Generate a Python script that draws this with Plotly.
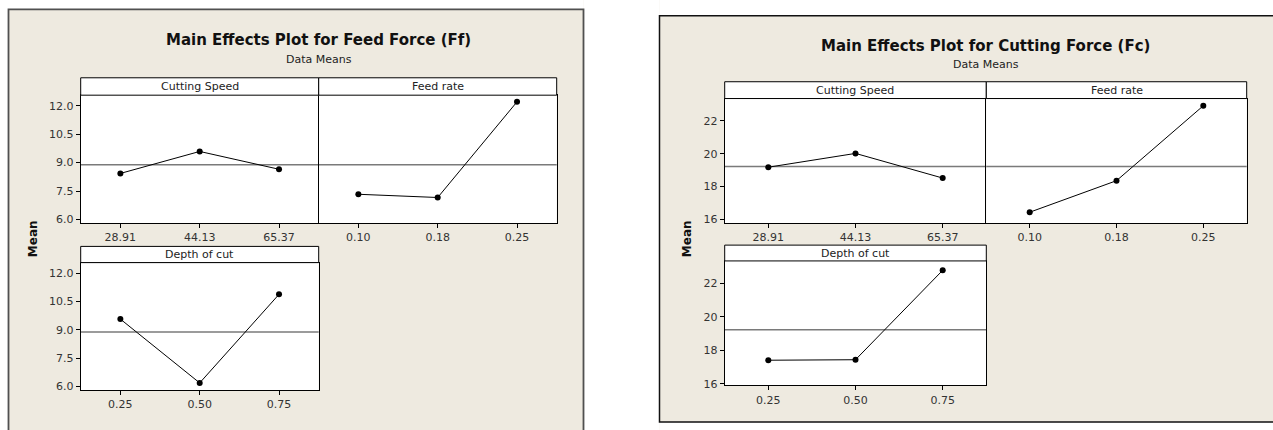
import plotly.graph_objects as go

# ---------------- data ----------------
speed_labels = ["28.91", "44.13", "65.37"]
feed_labels = ["0.10", "0.18", "0.25"]
depth_labels = ["0.25", "0.50", "0.75"]

ff_speed = [8.43, 9.59, 8.65]
ff_feed = [7.33, 7.16, 12.21]
ff_depth = [9.57, 6.19, 10.88]

fc_speed = [19.18, 20.02, 18.52]
fc_feed = [16.44, 18.36, 22.92]
fc_depth = [17.41, 17.44, 22.79]

ff_ticks = [6.0, 7.5, 9.0, 10.5, 12.0]
fc_ticks = [16, 18, 20, 22]

W, H = 1273, 430
BG = "#EEEAE0"
FONT = "DejaVu Sans, Verdana, sans-serif"


def px(x):
    return x / W


def py(y):
    return 1 - y / H


fig = go.Figure()

# (axis idx, x0, x1, ytop, ybottom, labels, values, strip_top, strip_label, yrange, ticks, show yticks, fmt, ymirror)
panels = [
    (1, 80.7, 318.7, 96.3, 225.7, speed_labels, ff_speed, 78.7, "Cutting Speed", [5.81, 12.56], ff_ticks, True, ".1f", False),
    (2, 318.7, 556.7, 96.3, 225.7, feed_labels, ff_feed, 78.7, "Feed rate", [5.81, 12.56], ff_ticks, False, ".1f", True),
    (3, 80.7, 318.7, 265.7, 394.7, depth_labels, ff_depth, 249.3, "Depth of cut", [5.81, 12.56], ff_ticks, True, ".1f", True),
    (4, 724.7, 986.3, 99.7, 225.7, speed_labels, fc_speed, 82.7, "Cutting Speed", [15.78, 23.36], fc_ticks, True, "d", False),
    (5, 986.3, 1246.7, 99.7, 225.7, feed_labels, fc_feed, 82.7, "Feed rate", [15.78, 23.36], fc_ticks, False, "d", True),
    (6, 724.7, 986.3, 264.0, 390.0, depth_labels, fc_depth, 248.0, "Depth of cut", [15.90, 23.35], fc_ticks, True, "d", True),
]

ff_all = ff_speed + ff_feed + ff_depth
fc_all = fc_speed + fc_feed + fc_depth
ff_mean = sum(ff_all) / len(ff_all)
fc_mean = sum(fc_all) / len(fc_all)

shapes = []
annotations = []


def white_rect(x0, x1, y0, y1):
    shapes.append(dict(type="rect", xref="paper", yref="paper", x0=px(x0), x1=px(x1), y0=py(y1), y1=py(y0),
                       fillcolor="white", line=dict(width=0), layer="below"))


# white surroundings (paper is beige)
white_rect(-5, 8.5, -5, 440)
white_rect(-5, 583.5, -5, 9.5)
white_rect(583.5, 659.5, -5, 440)
white_rect(659.5, 1280, -5, 16)
white_rect(659.5, 1280, 427, 440)

# outer frame lines
shapes.append(dict(type="rect", xref="paper", yref="paper", x0=px(8.5), x1=px(583.5), y0=py(436), y1=py(9.5),
                   fillcolor="rgba(0,0,0,0)", line=dict(color="#505050", width=1.8)))
shapes.append(dict(type="rect", xref="paper", yref="paper", x0=px(659.5), x1=px(1285), y0=py(427), y1=py(16),
                   fillcolor="rgba(0,0,0,0)", line=dict(color="#111111", width=1.5)))

for idx, x0, x1, yt, yb, labels, vals, st, slabel, yr, ticks, showy, fmt, ymir in panels:
    sfx = "" if idx == 1 else str(idx)
    xa = "xaxis" + sfx
    ya = "yaxis" + sfx
    xr = "x" + sfx
    yrf = "y" + sfx
    fig.add_trace(go.Scatter(x=labels, y=vals, xaxis=xr, yaxis=yrf, mode="lines+markers",
                             line=dict(color="black", width=1),
                             marker=dict(color="black", size=6), showlegend=False,
                             hoverinfo="x+y"))
    fig.layout[xa] = dict(domain=[px(x0), px(x1)], anchor=yrf, type="category", range=[-0.5, 2.5],
                          showline=True, mirror=True, linecolor="black", linewidth=1,
                          ticks="outside", ticklen=4, tickcolor="black", showgrid=False, zeroline=False,
                          tickfont=dict(family=FONT, size=11, color="#333333"), fixedrange=True)
    fig.layout[ya] = dict(domain=[py(yb), py(yt)], anchor=xr, range=yr, tickvals=ticks,
                          tickformat=fmt, showline=True, mirror=ymir, linecolor="black", linewidth=1,
                          ticks="outside" if showy else "", ticklen=4, tickcolor="black",
                          showticklabels=showy, showgrid=False, zeroline=False,
                          tickfont=dict(family=FONT, size=11, color="#333333"), fixedrange=True)
    m = ff_mean if idx <= 3 else fc_mean
    shapes.append(dict(type="line", xref=xr + " domain", yref=yrf, x0=0, x1=1, y0=m, y1=m,
                       line=dict(color="#7a7a7a", width=1.5), layer="below"))
    # strip
    shapes.append(dict(type="rect", xref="paper", yref="paper", x0=px(x0), x1=px(x1), y0=py(yt), y1=py(st),
                       fillcolor="white", line=dict(color="black", width=1)))
    annotations.append(dict(xref="paper", yref="paper", x=(px(x0) + px(x1)) / 2, y=(py(yt) + py(st)) / 2,
                            text=slabel, showarrow=False, xanchor="center", yanchor="middle",
                            font=dict(family=FONT, size=11, color="#222222")))

# titles
for cx, ty, sy, title in [(318.7, 40.5, 60.5, "Main Effects Plot for Feed Force (Ff)"),
                          (985.7, 46.5, 65.0, "Main Effects Plot for Cutting Force (Fc)")]:
    annotations.append(dict(xref="paper", yref="paper", x=px(cx), y=py(ty), text="<b>" + title + "</b>",
                            showarrow=False, xanchor="center", yanchor="middle",
                            font=dict(family=FONT, size=15, color="#111111")))
    annotations.append(dict(xref="paper", yref="paper", x=px(cx), y=py(sy), text="Data Means",
                            showarrow=False, xanchor="center", yanchor="middle",
                            font=dict(family=FONT, size=11, color="#222222")))

for mx in (33, 687):
    annotations.append(dict(xref="paper", yref="paper", x=px(mx), y=py(242), text="<b>Mean</b>",
                            textangle=-90, showarrow=False, xanchor="center", yanchor="middle",
                            font=dict(family=FONT, size=12, color="#111111")))

fig.update_layout(width=W, height=H, margin=dict(l=0, r=0, t=0, b=0, pad=0),
                  paper_bgcolor=BG, plot_bgcolor="white", shapes=shapes, annotations=annotations,
                  showlegend=False)

fig.write_html("out.html", config={"displayModeBar": False},
               post_script="document.body.style.margin='0';document.body.style.overflow='hidden';")
